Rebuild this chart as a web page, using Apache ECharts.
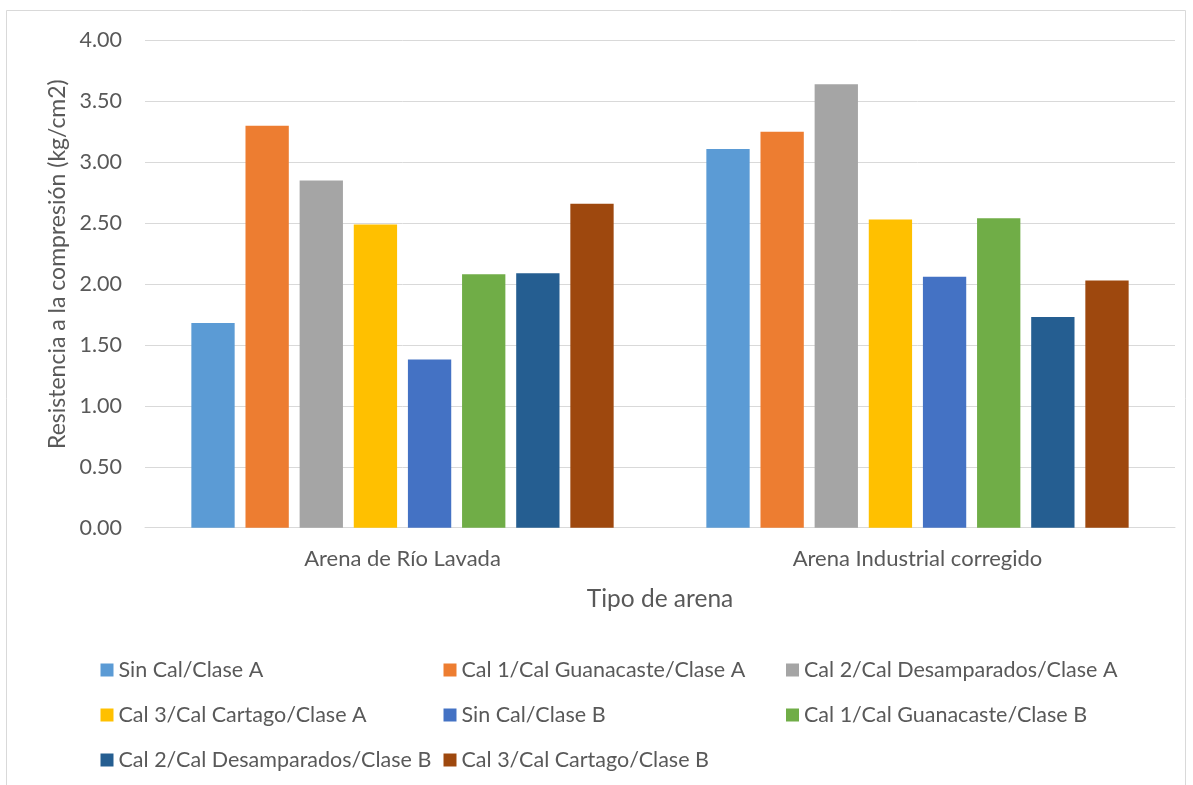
<!DOCTYPE html>
<html>
<head>
<meta charset="utf-8">
<script src="https://cdn.jsdelivr.net/npm/echarts@6/dist/echarts.min.js"></script>
<style>
  html, body { margin: 0; padding: 0; background: #fff; }
  #chart { width: 1193px; height: 785px; }
</style>
</head>
<body>
<div id="chart"></div>
<script>
// Sand types on the category axis
const categories = ['Arena de Río Lavada', 'Arena Industrial corregido'];

// Compressive strength (kg/cm2) per lime / class combination
const sinCalA     = [1.68, 3.11];
const cal1GuanA   = [3.30, 3.25];
const cal2DesA    = [2.85, 3.64];
const cal3CartA   = [2.49, 2.53];
const sinCalB     = [1.38, 2.06];
const cal1GuanB   = [2.08, 2.54];
const cal2DesB    = [2.09, 1.73];
const cal3CartB   = [2.66, 2.03];

const seriesNames = [
  'Sin Cal/Clase A',
  'Cal 1/Cal Guanacaste/Clase A',
  'Cal 2/Cal Desamparados/Clase A',
  'Cal 3/Cal Cartago/Clase A',
  'Sin Cal/Clase B',
  'Cal 1/Cal Guanacaste/Clase B',
  'Cal 2/Cal Desamparados/Clase B',
  'Cal 3/Cal Cartago/Clase B'
];
const seriesValues = [sinCalA, cal1GuanA, cal2DesA, cal3CartA, sinCalB, cal1GuanB, cal2DesB, cal3CartB];
const colors = ['#5B9BD5', '#ED7D31', '#A5A5A5', '#FFC000', '#4472C4', '#70AD47', '#255E91', '#9E480E'];

const FONT = 'Lato';
const TXT = '#595959';

const chart = echarts.init(document.getElementById('chart'), null, { renderer: 'canvas' });

const series = seriesNames.map((name, i) => ({
  name: name,
  type: 'bar',
  data: seriesValues[i],
  itemStyle: { color: colors[i] },
  barGap: '25%',
  barCategoryGap: '18%'
}));

// Legend laid out in three columns of up to three rows
const legendBase = {
  orient: 'vertical',
  top: 659,
  padding: 0,
  itemWidth: 13,
  itemHeight: 13,
  itemGap: 23,
  icon: 'rect',
  selectedMode: false,
  textStyle: { fontFamily: FONT, fontSize: 21.5, lineHeight: 22, color: TXT }
};

chart.setOption({
  backgroundColor: '#fff',
  animation: false,
  color: colors,
  graphic: [{
    type: 'rect',
    shape: { x: 6.5, y: 10.5, width: 1179, height: 790 },
    style: { fill: 'none', stroke: '#d9d9d9', lineWidth: 1 },
    silent: true,
    z: -1
  }],
  grid: { left: 145, right: 18, top: 40.5, bottom: 257.3, containLabel: false },
  legend: [
    Object.assign({}, legendBase, { left: 100.5, data: [seriesNames[0], seriesNames[3], seriesNames[6]] }),
    Object.assign({}, legendBase, { left: 443.5, data: [seriesNames[1], seriesNames[4], seriesNames[7]] }),
    Object.assign({}, legendBase, { left: 786, data: [seriesNames[2], seriesNames[5]] })
  ],
  xAxis: {
    type: 'category',
    data: categories,
    name: 'Tipo de arena',
    nameLocation: 'middle',
    nameGap: 59,
    nameTextStyle: { fontFamily: FONT, fontSize: 24.5, color: TXT },
    axisLine: { lineStyle: { color: '#d9d9d9', width: 1 } },
    axisTick: { show: false },
    axisLabel: { fontFamily: FONT, fontSize: 22, color: TXT, margin: 20 }
  },
  yAxis: {
    type: 'value',
    min: 0,
    max: 4,
    interval: 0.5,
    name: 'Resistencia a la compresión (kg/cm2)',
    nameLocation: 'middle',
    nameGap: 74,
    nameTextStyle: { fontFamily: FONT, fontSize: 23, color: TXT, padding: [0, 0, 0, 40] },
    axisLine: { show: false },
    axisTick: { show: false },
    axisLabel: {
      fontFamily: FONT, fontSize: 21.5, color: TXT, margin: 23,
      formatter: v => v.toFixed(2)
    },
    splitLine: { lineStyle: { color: '#d9d9d9', width: 1 } }
  },
  series: series
});
</script>
</body>
</html>
